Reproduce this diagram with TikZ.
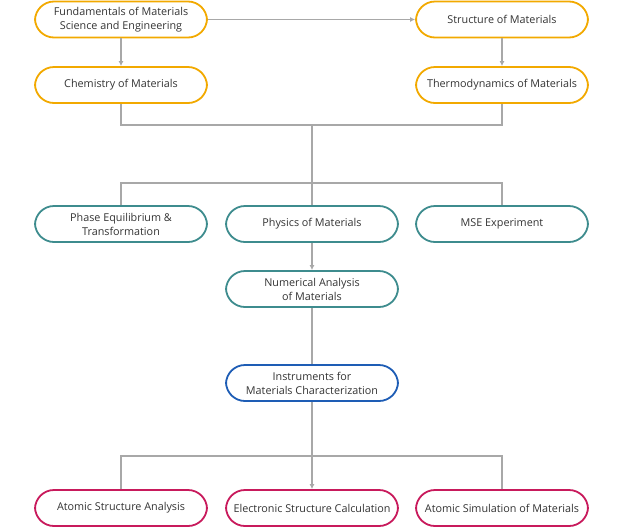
\documentclass[tikz,border=0pt]{standalone}
\usepackage{fontspec}
\setmainfont{Open Sans}
\usetikzlibrary{arrows.meta}
\definecolor{orangeline}{HTML}{F2A900}
\definecolor{tealline}{HTML}{3E8C8E}
\definecolor{blueline}{HTML}{1E5DB5}
\definecolor{redline}{HTML}{C81A5C}
\definecolor{busgray}{HTML}{A8A8A8}
\begin{document}
\begin{tikzpicture}[
    x=1pt, y=-1pt,
    pill/.style={draw, line width=1.8pt, rounded corners=19pt, minimum width=172pt, minimum height=36pt,
      align=center, font=\fontsize{10.8}{14}\selectfont, text=black!80, inner sep=1pt},
    base/.style={pill, draw=orangeline},
    core/.style={pill, draw=tealline},
    instr/.style={pill, draw=blueline},
    app/.style={pill, draw=redline},
    line/.style={draw=busgray, line width=1.2pt},
    arrow/.style={line, -{Latex[length=5pt, width=5pt]}}
  ]
  \useasboundingbox (0,0) rectangle (624,528);

  % first year
  \node[base] (fund) at (121,19.5) {Fundamentals of Materials\\Science and Engineering};
  \node[base] (struct) at (502,19.5) {Structure of Materials};
  \node[base] (chem) at (121,85) {Chemistry of Materials};
  \node[base] (thermo) at (502,85) {Thermodynamics of Materials};

  \draw[arrow] (fund) -- (struct);
  \draw[arrow] (fund) -- (chem);
  \draw[arrow] (struct) -- (thermo);

  % core courses
  \node[core] (phase) at (121,224) {Phase Equilibrium \&\\Transformation};
  \node[core] (phys) at (312,224) {Physics of Materials};
  \node[core] (mse) at (502,224) {MSE Experiment};
  \node[core] (num) at (312,289) {Numerical Analysis\\of Materials};

  \coordinate (joinA) at (312,125);
  \coordinate (joinB) at (312,183);
  \draw[line] (chem.south) |- (joinA) -| (thermo.south);
  \draw[line] (joinA) -- (joinB);
  \draw[line] (phase.north) |- (joinB) -| (mse.north);
  \draw[line] (joinB) -- (phys.north);
  \draw[arrow] (phys) -- (num);

  % characterization
  \node[instr] (instr) at (312,383) {Instruments for\\Materials Characterization};
  \draw[line] (num) -- (instr);

  \node[app] (atomic) at (121,508) {Atomic Structure Analysis};
  \node[app] (elec) at (312,508) {Electronic Structure Calculation};
  \node[app] (sim) at (502,508) {Atomic Simulation of Materials};

  \coordinate (joinC) at (312,456);
  \draw[line] (atomic.north) |- (joinC) -| (sim.north);
  \draw[arrow] (instr) -- (elec);
\end{tikzpicture}
\end{document}
